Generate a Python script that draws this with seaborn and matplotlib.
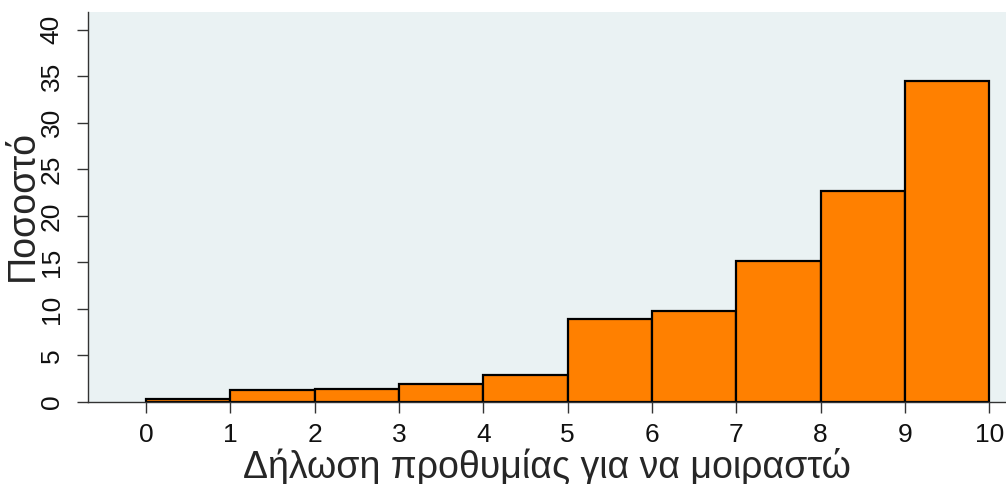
import numpy as np
import pandas as pd
import seaborn as sns
import matplotlib
matplotlib.use("Agg")
import matplotlib.pyplot as plt

# histogram bins (left edges) and percentage in each bin
bin_left = [0, 1, 2, 3, 4, 5, 6, 7, 8, 9]
percent = [0.35, 1.3, 1.45, 1.9, 2.9, 8.9, 9.75, 15.2, 22.7, 34.5]
x_ticks = [0, 1, 2, 3, 4, 5, 6, 7, 8, 9, 10]
y_ticks = [0, 5, 10, 15, 20, 25, 30, 35, 40]

df = pd.DataFrame({"score": bin_left, "pct": percent})

sns.set_style("white")
plt.rcParams["font.family"] = ["Liberation Sans", "DejaVu Sans"]

fig = plt.figure(figsize=(10.06, 4.84), dpi=100)
ax = fig.add_axes([0.0875, 0.1694, 0.9125, 0.8058])
ax.set_facecolor("#EAF2F3")

sns.histplot(data=df, x="score", weights="pct", bins=x_ticks,
             color="#FF8000", alpha=1, edgecolor="black", linewidth=1.6, ax=ax)

ax.set_xlim(-0.69, 10.2)
ax.set_ylim(0, 41.9)
ax.set_xticks(x_ticks)
ax.set_yticks(y_ticks)
ax.tick_params(axis="both", direction="out", length=8, width=1, color="#333333",
               labelsize=19, labelcolor="#111111", bottom=True, left=True)
ax.tick_params(axis="x", pad=7)
ax.tick_params(axis="y", pad=9.5, labelrotation=90)
for lab in ax.get_yticklabels():
    lab.set_va("center")

for s in ["top", "right"]:
    ax.spines[s].set_visible(False)
for s in ["left", "bottom"]:
    ax.spines[s].set_color("#333333")
    ax.spines[s].set_linewidth(1)

ax.set_xlabel("Δήλωση προθυμίας για να μοιραστώ", fontsize=27)
ax.set_ylabel("Ποσοστό", fontsize=27)
ax.xaxis.set_label_coords(0.5, -0.166)
ax.xaxis.label.set_va("center")
ax.yaxis.set_label_coords(-0.0715, 0.503)
ax.yaxis.label.set_va("center")

fig.savefig("out.png", dpi=100)
